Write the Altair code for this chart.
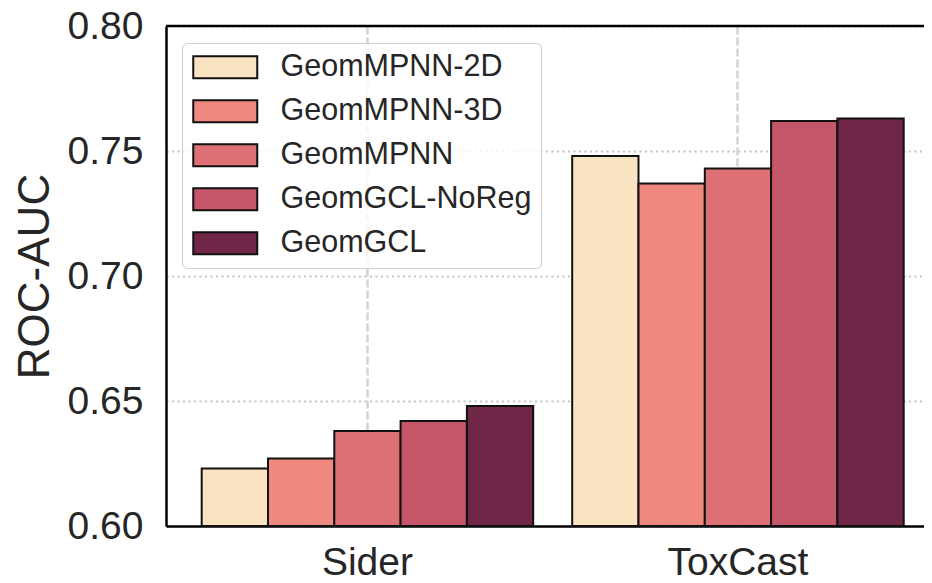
import altair as alt
import pandas as pd

datasets = ["Sider", "ToxCast"]
methods = ["GeomMPNN-2D", "GeomMPNN-3D", "GeomMPNN", "GeomGCL-NoReg", "GeomGCL"]
sider_values = [0.623, 0.627, 0.638, 0.642, 0.648]
toxcast_values = [0.748, 0.737, 0.743, 0.762, 0.763]
colors = ["#FAE3C2", "#EF8980", "#DC7075", "#C5566A", "#702747"]
y_ticks = [0.60, 0.65, 0.70, 0.75, 0.80]

rows = []
for ds, vals in zip(datasets, [sider_values, toxcast_values]):
    for m, v in zip(methods, vals):
        rows.append({"dataset": ds, "method": m, "value": v})
df = pd.DataFrame(rows)

FONT = "Liberation Sans"
TXT = "#262626"

# wide rectangle legend swatch (scaled by sqrt(symbolSize)/2)
rect_path = "M-1.083,-0.917H4.25V0.917H-1.083Z"

bars = alt.Chart(df).mark_bar(stroke="#111111", strokeWidth=2, opacity=1).encode(
    x=alt.X(
        "dataset:N",
        sort=datasets,
        title=None,
        scale=alt.Scale(paddingInner=0.10526, paddingOuter=0.07557, align=0.6375),
        axis=alt.Axis(
            labelAngle=0,
            labelFontSize=39,
            labelFont=FONT,
            labelColor=TXT,
            labelPadding=17,
            ticks=False,
            domainColor="#000000",
            domainWidth=2.5,
            grid=True,
            gridDash=[8, 3],
            gridColor="#d4d4d4",
            gridWidth=2.5,
        ),
    ),
    xOffset=alt.XOffset("method:N", sort=methods, scale=alt.Scale(paddingInner=0, paddingOuter=0)),
    y=alt.Y(
        "value:Q",
        scale=alt.Scale(domain=[0.60, 0.80], zero=False, nice=False),
        axis=alt.Axis(
            values=y_ticks,
            format=".2f",
            title="ROC-AUC",
            titleFontSize=44,
            titleFont=FONT,
            titleFontWeight="normal",
            titleColor=TXT,
            titlePadding=10,
            labelFontSize=39,
            labelFont=FONT,
            labelColor=TXT,
            labelPadding=23,
            ticks=False,
            domainColor="#000000",
            domainWidth=2.5,
            grid=True,
            gridDash=[2, 3.5],
            gridColor="#c4c4c4",
            gridWidth=2,
        ),
    ),
    y2=alt.datum(0.60),
    fill=alt.Fill(
        "method:N",
        sort=methods,
        scale=alt.Scale(domain=methods, range=colors),
        legend=alt.Legend(
            title=None,
            orient="none",
            legendX=16,
            legendY=17,
            labelFontSize=30.5,
            labelFont=FONT,
            labelColor=TXT,
            labelLimit=0,
            labelOffset=59,
            symbolType=rect_path,
            symbolSize=576,
            symbolStrokeColor="#111111",
            symbolStrokeWidth=2,
            symbolOpacity=1,
            rowPadding=13,
            padding=9,
            cornerRadius=5,
            strokeColor="#cccccc",
            fillColor="rgba(255,255,255,0.8)",
        ),
    ),
)

top_spine = alt.Chart(pd.DataFrame({"top": [0.80]})).mark_rule(
    color="#000000", strokeWidth=2.5
).encode(y=alt.Y("top:Q"))

chart = alt.layer(bars, top_spine).properties(
    width=758,
    height=500,
    autosize=alt.AutoSizeParams(type="none"),
    padding={"left": 158, "top": 18, "right": 0, "bottom": 54},
).configure_view(stroke=None).configure(background="white")

chart.save("out.html", embed_options={"renderer": "svg", "actions": False})
